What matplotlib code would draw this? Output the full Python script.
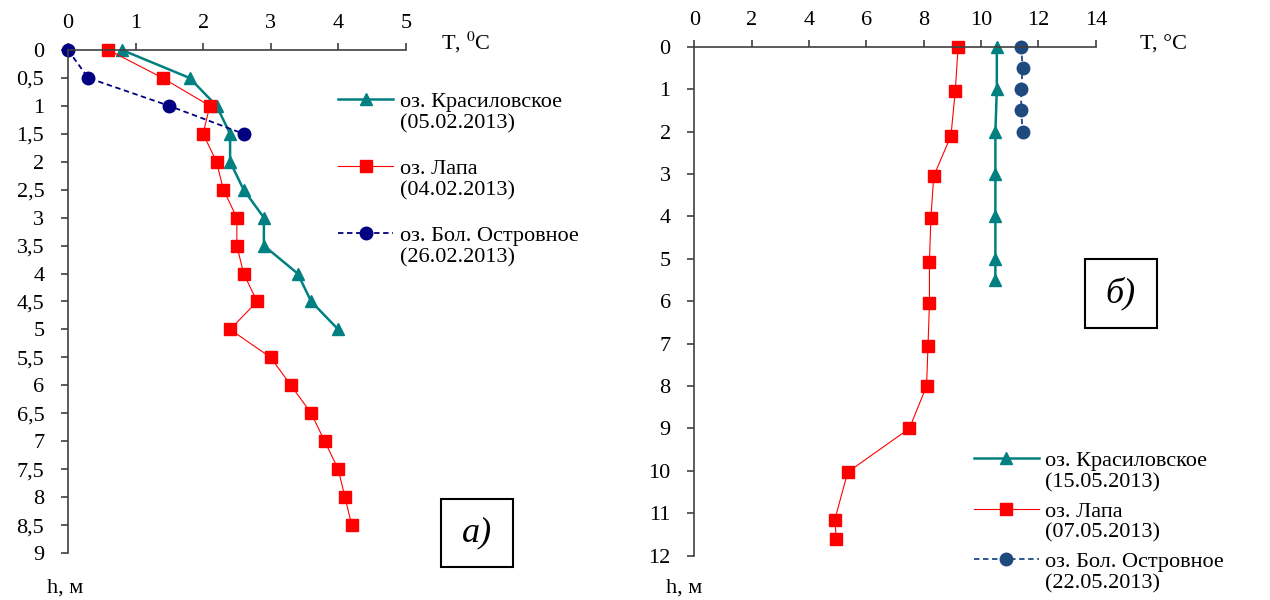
import matplotlib
matplotlib.use('Agg')
from matplotlib import pyplot as plt
from matplotlib.patches import Rectangle

plt.rcParams['font.family'] = ['Liberation Serif', 'DejaVu Serif']
plt.rcParams['mathtext.fontset'] = 'stix'

# --- winter (a) ---
h_kras_w = [0, 0.5, 1, 1.5, 2, 2.5, 3, 3.5, 4, 4.5, 5]
t_kras_w = [0.8, 1.8, 2.2, 2.4, 2.4, 2.6, 2.9, 2.9, 3.4, 3.6, 4.0]

h_lapa_w = [0, 0.5, 1, 1.5, 2, 2.5, 3, 3.5, 4, 4.5, 5, 5.5, 6, 6.5, 7, 7.5, 8, 8.5]
t_lapa_w = [0.6, 1.4, 2.1, 2.0, 2.2, 2.3, 2.5, 2.5, 2.6, 2.8, 2.4, 3.0, 3.3, 3.6, 3.8, 4.0, 4.1, 4.2]

h_ostr_w = [0, 0.5, 1, 1.5]
t_ostr_w = [0, 0.3, 1.5, 2.6]

# --- spring (b) ---
h_kras_s = [0, 1, 2, 3, 4, 5, 5.5]
t_kras_s = [10.55, 10.55, 10.5, 10.5, 10.5, 10.5, 10.5]

h_lapa_s = [0, 1.05, 2.1, 3.05, 4.05, 5.08, 6.05, 7.05, 8.0, 9.0, 10.03, 11.15, 11.6]
t_lapa_s = [9.2, 9.1, 8.95, 8.35, 8.25, 8.2, 8.2, 8.15, 8.1, 7.5, 5.35, 4.9, 4.95]

h_ostr_s = [0, 0.5, 1, 1.5, 2]
t_ostr_s = [11.4, 11.45, 11.4, 11.4, 11.45]

yticks_w = [0, 0.5, 1, 1.5, 2, 2.5, 3, 3.5, 4, 4.5, 5, 5.5, 6, 6.5, 7, 7.5, 8, 8.5, 9]
yticks_s = list(range(0, 13))
xticks_w = [0, 1, 2, 3, 4, 5]
xticks_s = [0, 2, 4, 6, 8, 10, 12, 14]

names = ['оз. Красиловское', 'оз. Лапа', 'оз. Бол. Островное']
dates_w = ['(05.02.2013)', '(04.02.2013)', '(26.02.2013)']
dates_s = ['(15.05.2013)', '(07.05.2013)', '(22.05.2013)']

TEAL = '#008080'
RED = '#FF0000'
NAVY_W = '#000080'
NAVY_S = '#1F4A7E'
AXC = '#404040'
FS = 16
MS = 9

fig = plt.figure(figsize=(12.7, 6), dpi=100)
ax1 = fig.add_axes([0.0535, 0.0783, 0.266, 0.8384])
ax2 = fig.add_axes([0.5467, 0.0738, 0.3161, 0.8484])


def style_axis(ax, xticks, yticks, ylabels):
    ax.set_xlim(xticks[0], xticks[-1])
    ax.set_ylim(yticks[-1], yticks[0])
    ax.xaxis.tick_top()
    ax.set_xticks(xticks)
    ax.set_yticks(yticks)
    ax.set_yticklabels(ylabels)
    for s in ['right', 'bottom']:
        ax.spines[s].set_visible(False)
    for s in ['top', 'left']:
        ax.spines[s].set_color(AXC)
        ax.spines[s].set_linewidth(1.2)
    ax.tick_params(axis='both', colors=AXC, labelcolor='black', labelsize=FS,
                   length=5, width=1.2, direction='out')
    ax.tick_params(axis='x', pad=7)
    ax.tick_params(axis='y', pad=12)
    ax.patch.set_alpha(0)


def add_legend(ax, handles, anchor, hlen, spacing):
    return ax.legend(handles, names, loc='upper left', bbox_to_anchor=anchor,
                     bbox_transform=fig.transFigure, frameon=False, fontsize=FS,
                     handlelength=hlen, labelspacing=spacing, handletextpad=0.3,
                     borderpad=0, borderaxespad=0)


def fmt(v):
    return str(int(v)) if v == int(v) else str(v).replace('.', ',')


# panel a
l1, = ax1.plot(t_kras_w, h_kras_w, color=TEAL, lw=1.8, marker='^', ms=MS, clip_on=False)
l2, = ax1.plot(t_lapa_w, h_lapa_w, color=RED, lw=0.8, marker='s', ms=MS, clip_on=False)
l3, = ax1.plot(t_ostr_w, h_ostr_w, color=NAVY_W, lw=1.3, ls=(0, (3, 2)), marker='o', ms=MS,
               clip_on=False)
style_axis(ax1, xticks_w, yticks_w, [fmt(v) for v in yticks_w])
leg1 = add_legend(ax1, [l1, l2, l3], (0.266, 0.848), 2.5, 2.1)
ax1.text(1.105, 1.014, r'T, $^{0}$C', transform=ax1.transAxes, fontsize=FS,
         ha='left', va='center')
ax1.text(-0.062, -0.07, 'h, м', transform=ax1.transAxes, fontsize=FS,
         ha='left', va='center')

# panel b
k1, = ax2.plot(t_kras_s, h_kras_s, color=TEAL, lw=1.8, marker='^', ms=MS, clip_on=False)
k2, = ax2.plot(t_lapa_s, h_lapa_s, color=RED, lw=0.8, marker='s', ms=MS, clip_on=False)
k3, = ax2.plot(t_ostr_s, h_ostr_s, color=NAVY_S, lw=1.3, ls=(0, (3, 2)), marker='o', ms=MS,
               clip_on=False)
style_axis(ax2, xticks_s, yticks_s, [str(v) for v in yticks_s])
leg2 = add_legend(ax2, [k1, k2, k3], (0.767, 0.249), 2.9, 1.35)
ax2.text(1.11, 1.003, 'T, °C', transform=ax2.transAxes, fontsize=FS,
         ha='left', va='center')
ax2.text(-0.07, -0.063, 'h, м', transform=ax2.transAxes, fontsize=FS,
         ha='left', va='center')

# panel tags
fig.patches.append(Rectangle((0.347, 0.055), 0.0572, 0.113, transform=fig.transFigure,
                             fill=False, ec='black', lw=1.5))
fig.text(0.347 + 0.0286, 0.055 + 0.0565, 'а)', fontsize=26, style='italic',
         ha='center', va='center')
fig.patches.append(Rectangle((0.854, 0.454), 0.0567, 0.1145, transform=fig.transFigure,
                             fill=False, ec='black', lw=1.5))
fig.text(0.854 + 0.0284, 0.454 + 0.057, 'б)', fontsize=26, style='italic',
         ha='center', va='center')

# second line of each legend entry (date) under the lake name
fig.canvas.draw()
W, H = fig.canvas.get_width_height()
for leg, dates in [(leg1, dates_w), (leg2, dates_s)]:
    for txt, d in zip(leg.get_texts(), dates):
        bb = txt.get_window_extent()
        fig.text(bb.x0 / W, (bb.y0 - 2) / H, d, fontsize=FS, ha='left', va='top')

fig.savefig('out.png', dpi=100)
